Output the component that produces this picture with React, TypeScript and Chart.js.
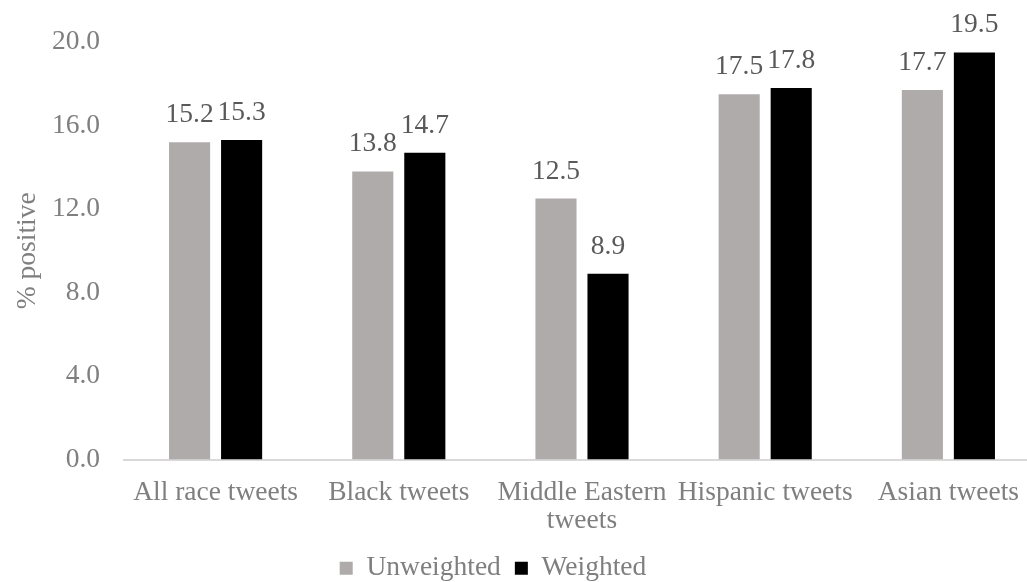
import React, { useEffect, useRef } from "react";
import { Chart, registerables } from "chart.js";

Chart.register(...registerables);

const categories: (string | string[])[] = [
  "All race tweets",
  "Black tweets",
  ["Middle Eastern", "tweets"],
  "Hispanic tweets",
  "Asian tweets",
];
const unweighted = [15.2, 13.8, 12.5, 17.5, 17.7];
const weighted = [15.3, 14.7, 8.9, 17.8, 19.5];
const yTicks = [0, 4, 8, 12, 16, 20];

const FONT = "'Liberation Serif', 'Times New Roman', serif";
const FS = 27.5;

const valueLabels = {
  id: "valueLabels",
  afterDatasetsDraw(chart: any) {
    const ctx = chart.ctx;
    ctx.save();
    ctx.font = `${FS}px ${FONT}`;
    ctx.fillStyle = "#595959";
    ctx.textAlign = "center";
    ctx.textBaseline = "alphabetic";
    chart.data.datasets.forEach((ds: any, i: number) => {
      const meta = chart.getDatasetMeta(i);
      meta.data.forEach((bar: any, j: number) => {
        ctx.fillText(Number(ds.data[j]).toFixed(1), bar.x, bar.y - 20);
      });
    });
    ctx.restore();
  },
};

const legendShift = {
  id: "legendShift",
  afterLayout(chart: any) {
    const lg = chart.legend;
    if (lg) {
      lg.left -= 27;
      lg.right -= 27;
      lg.top += 10;
      lg.bottom += 10;
    }
    const x = chart.scales.x;
    if (x) x.bottom += 20;
  },
};

export default function App() {
  const ref = useRef<HTMLCanvasElement>(null);
  useEffect(() => {
    if (!ref.current) return;
    const chart = new Chart(ref.current, {
      type: "bar",
      data: {
        labels: categories,
        datasets: [
          {
            label: "Unweighted",
            data: unweighted,
            backgroundColor: "#AFABAB",
            categoryPercentage: 0.568,
            barPercentage: 0.79,
          },
          {
            label: "Weighted",
            data: weighted,
            backgroundColor: "#000000",
            categoryPercentage: 0.568,
            barPercentage: 0.79,
          },
        ],
      },
      options: {
        animation: false,
        responsive: false,
        maintainAspectRatio: false,
        layout: { padding: { top: 42, right: 0, left: 0, bottom: 0 } },
        plugins: {
          legend: {
            position: "bottom",
            labels: {
              boxWidth: 13,
              boxHeight: 13,
              color: "#7f7f7f",
              font: { family: FONT, size: FS },
              padding: 14,
            },
          },
          tooltip: { enabled: false },
        },
        scales: {
          x: {
            afterFit: (scale: any) => {
              scale.height = 71;
            },
            grid: { display: false, drawTicks: false },
            border: { display: true, color: "#D9D9D9", width: 2 },
            ticks: {
              color: "#7f7f7f",
              font: { family: FONT, size: FS, lineHeight: 1.03 },
              padding: 19,
              maxRotation: 0,
              autoSkip: false,
            },
          },
          y: {
            min: 0,
            max: 20,
            afterBuildTicks: (scale: any) => {
              scale.ticks = yTicks.map((v) => ({ value: v }));
            },
            afterFit: (scale: any) => {
              scale.width = 124;
            },
            grid: { display: false, drawTicks: false },
            border: { display: false },
            ticks: {
              color: "#7f7f7f",
              font: { family: FONT, size: FS },
              padding: 24,
              callback: (v: any) => Number(v).toFixed(1),
            },
            title: {
              display: true,
              text: "% positive",
              color: "#7f7f7f",
              font: { family: FONT, size: FS },
              padding: { top: 11, bottom: 0 },
            },
          },
        },
      },
      plugins: [valueLabels, legendShift],
    });
    return () => chart.destroy();
  }, []);
  return (
    <div
      style={{
        position: "fixed",
        left: 0,
        top: 0,
        width: 1027,
        height: 582,
        overflow: "hidden",
        background: "#fff",
      }}
    >
      <canvas ref={ref} width={1040} height={582} style={{ display: "block" }} />
    </div>
  );
}
